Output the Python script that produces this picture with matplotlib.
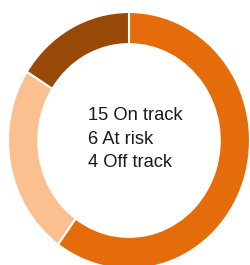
import matplotlib.pyplot as plt

# Datos
estados = ['On track', 'At risk', 'Off track']
valores = [15, 6, 4]
colores = ['#E46C0A', '#FAC090', '#984807']

W, H = 251, 265
cx, cy = 129, 140.5      # centro del anillo en píxeles (desde arriba)
rx, ry = 121, 128.5      # radios en píxeles

fig = plt.figure(figsize=(W / 100, H / 100), dpi=100)
# Ejes del tamaño exacto de la elipse; se salen de la figura a derecha y abajo
ax = fig.add_axes([(cx - rx) / W, (H - cy - ry) / H, 2 * rx / W, 2 * ry / H])

# pie() ya quita el marco y las marcas de los ejes
ax.pie(valores, colors=colores, startangle=90, counterclock=False,
       radius=1.0, wedgeprops=dict(width=0.25, edgecolor='white', linewidth=1.5))
ax.set_aspect('auto')
ax.set_xlim(-1, 1)
ax.set_ylim(-1, 1)

# Texto central, una línea por estado
lineas_base = [120, 143.5, 167]
for (v, e), yb in zip(zip(valores, estados), lineas_base):
    fig.text(88 / W, 1 - yb / H, f'{v} {e}', ha='left', va='baseline',
             fontsize=13.2, family='Liberation Sans', color='#1a1a1a')

fig.canvas.draw()
fig.savefig('out.png', dpi=100)
